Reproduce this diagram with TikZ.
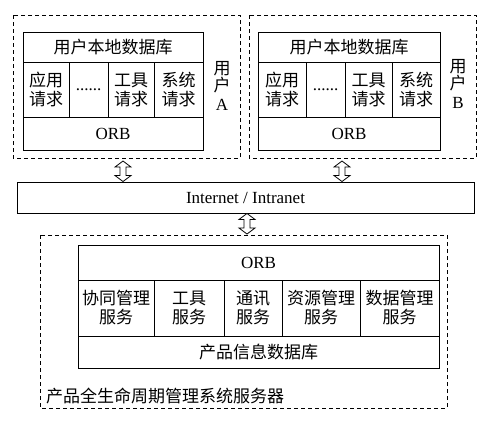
\documentclass[tikz,border=0pt]{standalone}
\usepackage{fontspec}
\setmainfont{Liberation Serif}
\newfontfamily\cjk{Noto Sans CJK SC}
\usetikzlibrary{calc}
\newcommand\cjkfs{\cjk\fontsize{17}{19}\selectfont}
\newcommand\latfs{\fontsize{17}{19}\selectfont}
\tikzset{
  cell/.style={draw, line width=0.9pt, inner sep=0pt, align=center, font=\cjkfs},
  latcell/.style={cell, font=\latfs},
  dashbox/.style={draw, line width=0.8pt, dash pattern=on 4pt off 3pt},
  arrowshape/.style={draw, line width=0.8pt, fill=white, line join=miter},
}
\newcommand\dblarr[2]{\draw[arrowshape] (#1) -- ++(8,6) -- ++(-5,0) -- ($(#2)+(3,-6)$) -- ++(5,0) -- (#2) -- ++(-8,-6) -- ++(5,0) -- ($(#1)+(-3,6)$) -- ++(-5,0) -- cycle;}
\begin{document}
\begin{tikzpicture}[x=1pt,y=-1pt]
\useasboundingbox (0,0) rectangle (495,429);
% user A
\draw[dashbox] (13,15) rectangle (240,158);
\node[cell, minimum width=180pt, minimum height=30pt] (aTitle) at (113,47) {用户本地数据库};
\node[cell, minimum width=46pt, minimum height=55pt] (aApp) at (46,89.5) {应用\\请求};
\node[latcell, minimum width=39pt, minimum height=55pt] (aDots) at (88.5,89.5) {......};
\node[cell, minimum width=46pt, minimum height=55pt] (aTool) at (131,89.5) {工具\\请求};
\node[cell, minimum width=49pt, minimum height=55pt] (aSys) at (178.5,89.5) {系统\\请求};
\node[latcell, minimum width=180pt, minimum height=33pt] (aORB) at (113,133.5) {ORB};
\node[align=center, inner sep=0pt, font=\latfs] (aLab) at (222,86) {{\cjkfs 用}\\[-2pt]{\cjkfs 户}\\A};
% user B
\draw[dashbox] (249,15) rectangle (476,158);
\node[cell, minimum width=182pt, minimum height=30pt] (bTitle) at (349,47) {用户本地数据库};
\node[cell, minimum width=48pt, minimum height=55pt] (bApp) at (282,89.5) {应用\\请求};
\node[latcell, minimum width=39pt, minimum height=55pt] (bDots) at (325.5,89.5) {......};
\node[cell, minimum width=47pt, minimum height=55pt] (bTool) at (368.5,89.5) {工具\\请求};
\node[cell, minimum width=48pt, minimum height=55pt] (bSys) at (416,89.5) {系统\\请求};
\node[latcell, minimum width=182pt, minimum height=33pt] (bORB) at (349,133.5) {ORB};
\node[align=center, inner sep=0pt, font=\latfs] (bLab) at (458,84) {{\cjkfs 用}\\[-2pt]{\cjkfs 户}\\B};
% network
\node[latcell, minimum width=457pt, minimum height=31pt] (net) at (245.5,197.5) {Internet / Intranet};
% server
\draw[dashbox] (40,235) rectangle (447,408);
\node[latcell, minimum width=361pt, minimum height=35pt] (sORB) at (258.5,262.5) {ORB};
\node[cell, minimum width=76pt, minimum height=56pt] (s1) at (116,308) {协同管理\\服务};
\node[cell, minimum width=70pt, minimum height=56pt] (s2) at (189,308) {工具\\服务};
\node[cell, minimum width=58pt, minimum height=56pt] (s3) at (253,308) {通讯\\服务};
\node[cell, minimum width=78pt, minimum height=56pt] (s4) at (321,308) {资源管理\\服务};
\node[cell, minimum width=79pt, minimum height=56pt] (s5) at (399.5,308) {数据管理\\服务};
\node[cell, minimum width=361pt, minimum height=32pt] (sDB) at (258.5,352) {产品信息数据库};
\node[anchor=west, inner sep=0pt, font=\cjkfs] (sLab) at (46,396) {产品全生命周期管理系统服务器};
% arrows
\coordinate (ca) at (123,161);
\coordinate (cb) at (342,161);
\coordinate (cs) at (247,234);
\dblarr{ca}{ca |- net.north}
\dblarr{cb}{cb |- net.north}
\dblarr{cs |- net.south}{cs}
\end{tikzpicture}
\end{document}
